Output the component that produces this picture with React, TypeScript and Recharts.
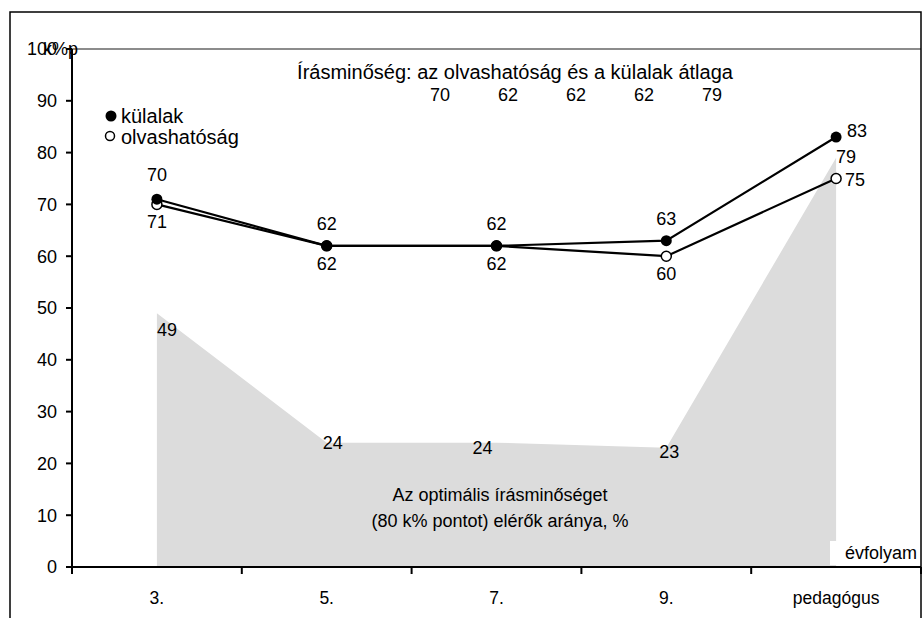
import React from 'react'
import { ComposedChart, Area, Line, XAxis, YAxis, ReferenceLine, LabelList } from 'recharts'

const categories = ['3.', '5.', '7.', '9.', 'pedagógus']
const kulalak = [71, 62, 62, 63, 83]
const olvashatosag = [70, 62, 62, 60, 75]
const optimalis = [49, 24, 24, 23, 79]
const atlag = [70, 62, 62, 62, 79]
const yTicks = [0, 10, 20, 30, 40, 50, 60, 70, 80, 90, 100]

const data = categories.map((c, i) => ({
  name: c,
  kulalak: kulalak[i],
  olvashatosag: olvashatosag[i],
  optimalis: optimalis[i],
}))

const FONT = '"Liberation Sans", Arial, sans-serif'
const FS = 18
const W = 923
const H = 618
const BAND = 849 / 5

// label offsets per point (dx, dy from the mark)
const kulalakOff = [[0, 29], [0, -16], [0, -16], [0, -16], [21, 0]]
const olvasOff = [[0, -23], [0, 24], [0, 24], [0, 24], [19, 7]]
const areaOff = [[10, 23], [6, 6], [-14, 11], [3, 10], [10, 5]]

const makeLabel = (offs: number[][]) => (props: any) => {
  const { x, y, value, index } = props
  const [dx, dy] = offs[index]
  return (
    <text x={x + dx} y={y + dy} textAnchor="middle" fontSize={FS} fontFamily={FONT} fill="#000">
      {value}
    </text>
  )
}

const XTick = (props: any) => {
  const { x, y, payload, index } = props
  return (
    <g>
      <line x1={x - BAND / 2} y1={y} x2={x - BAND / 2} y2={y + 7} stroke="#000" strokeWidth={2} />
      {index === categories.length - 1 && (
        <line x1={x + BAND / 2} y1={y} x2={x + BAND / 2} y2={y + 7} stroke="#000" strokeWidth={2} />
      )}
      <text x={x} y={y + 37} textAnchor="middle" fontSize={17.5} fontFamily={FONT} fill="#000">
        {payload.value}
      </text>
    </g>
  )
}

const FilledDot = (props: any) => <circle cx={props.cx} cy={props.cy} r={5.5} fill="#000" />
const OpenDot = (props: any) => <circle cx={props.cx} cy={props.cy} r={5} fill="#fff" stroke="#000" strokeWidth={1.5} />

export default function App() {
  return (
    <div style={{ position: 'absolute', left: 0, top: 0, width: W, height: H, background: '#fff', fontFamily: FONT }}>
      <ComposedChart width={W} height={H} data={data} margin={{ top: 49, right: 2, left: 10, bottom: 11 }}>
        <XAxis
          dataKey="name"
          axisLine={{ stroke: '#000', strokeWidth: 2 }}
          tickLine={false}
          tickSize={0}
          tickMargin={0}
          height={40}
          padding={{ left: BAND / 2, right: BAND / 2 }}
          tick={<XTick />}
          interval={0}
        />
        <YAxis
          domain={[0, 100]}
          ticks={yTicks}
          width={62}
          axisLine={{ stroke: '#000', strokeWidth: 2 }}
          tickLine={{ stroke: '#000', strokeWidth: 2 }}
          tickSize={6}
          tickMargin={9}
          tick={{ fontSize: 18, fill: '#000', fontFamily: FONT }}
        />
        <ReferenceLine y={100} stroke="#8c8c8c" strokeWidth={2} />
        <Area type="linear" dataKey="optimalis" fill="#dcdcdc" fillOpacity={1} stroke="none" isAnimationActive={false}>
          <LabelList dataKey="optimalis" content={makeLabel(areaOff)} />
        </Area>
        <Line type="linear" dataKey="olvashatosag" stroke="#000" strokeWidth={2.2} dot={<OpenDot />} isAnimationActive={false}>
          <LabelList dataKey="olvashatosag" content={makeLabel(olvasOff)} />
        </Line>
        <Line type="linear" dataKey="kulalak" stroke="#000" strokeWidth={2.2} dot={<FilledDot />} isAnimationActive={false}>
          <LabelList dataKey="kulalak" content={makeLabel(kulalakOff)} />
        </Line>
      </ComposedChart>
      <svg width={W} height={H} style={{ position: 'absolute', left: 0, top: 0, pointerEvents: 'none' }}>
        <rect x={10} y={12} width={911} height={640} fill="none" stroke="#000" strokeWidth={1.5} />
        <g fontFamily={FONT} fontSize={FS} fill="#000">
          <text x={43} y={55} fontSize={18}>k%p</text>
          {/* legend */}
          <circle cx={111} cy={116} r={5.5} fill="#000" />
          <text x={121} y={123} fontSize={20}>külalak</text>
          <circle cx={110} cy={136} r={4.5} fill="#fff" stroke="#000" strokeWidth={1.5} />
          <text x={121} y={144} fontSize={20}>olvashatóság</text>
          {/* average row */}
          <text x={515} y={79} textAnchor="middle" fontSize={20}>Írásminőség: az olvashatóság és a külalak átlaga</text>
          {atlag.map((v, i) => (
            <text key={i} x={440 + i * 68} y={101} textAnchor="middle">{v}</text>
          ))}
          {/* area caption */}
          <text x={500} y={501} textAnchor="middle">Az optimális írásminőséget</text>
          <text x={500} y={527} textAnchor="middle">(80 k% pontot) elérők aránya, %</text>
          <rect x={830} y={541} width={90} height={24} fill="#fff" />
          <text x={917} y={559} textAnchor="end">évfolyam</text>
        </g>
      </svg>
    </div>
  )
}
